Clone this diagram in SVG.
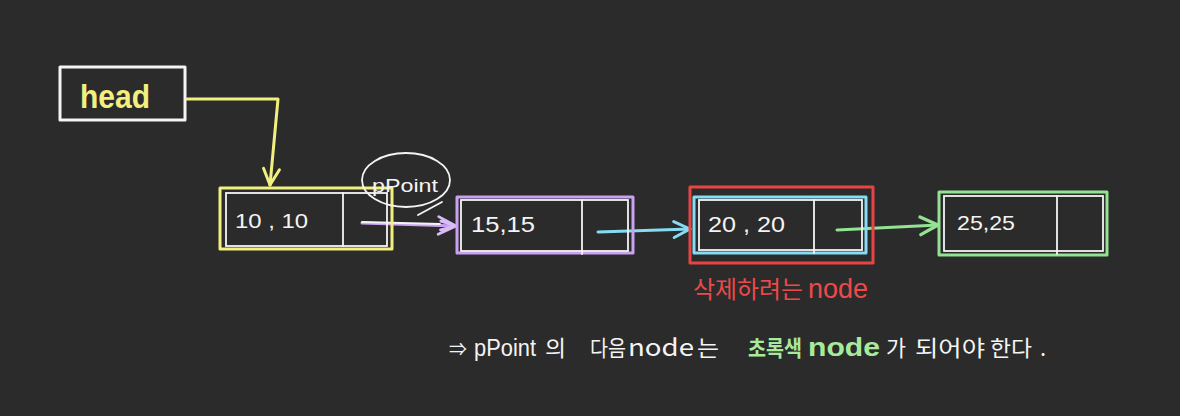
<svg xmlns="http://www.w3.org/2000/svg" width="1180" height="416" viewBox="0 0 1180 416">
<style>
.bg{fill:#2b2b2b}
.box{fill:none;stroke-width:3;stroke-linejoin:round;stroke-linecap:round}
.w{stroke:#f4f4f4}
.wt{fill:none;stroke:#f4f4f4;stroke-width:1.8;stroke-linecap:round}
.y{stroke:#f2ef7e}
.p{stroke:#c9a2f2}
.c{stroke:#86dcf2}
.r{stroke:#e84444}
.g{stroke:#94e294}
.conn{fill:none;stroke-width:3;stroke-linecap:round;stroke-linejoin:round}
.t{font-family:"Liberation Sans","Noto Sans CJK KR",sans-serif;fill:#f4f4f4}
.k{font-family:"Noto Sans CJK KR","Liberation Sans",sans-serif}
</style>
<defs>
<marker id="ay" markerUnits="userSpaceOnUse" viewBox="0 0 20 20" refX="18" refY="10" markerWidth="20" markerHeight="20" orient="auto"><path d="M2,2 L18,10 L2,18" fill="none" stroke="#f2ef7e" stroke-width="3" stroke-linecap="round" stroke-linejoin="round"/></marker>
<marker id="ap" markerUnits="userSpaceOnUse" viewBox="0 0 20 20" refX="18" refY="10" markerWidth="22" markerHeight="22" orient="auto"><path d="M2,2 L18,10 L2,18 M4,6 L18,10 L4,14" fill="none" stroke="#d8bcf6" stroke-width="2.5" stroke-linecap="round" stroke-linejoin="round"/></marker>
<marker id="ac" markerUnits="userSpaceOnUse" viewBox="0 0 20 20" refX="18" refY="10" markerWidth="20" markerHeight="20" orient="auto"><path d="M2,2 L18,10 L2,18" fill="none" stroke="#86dcf2" stroke-width="3" stroke-linecap="round" stroke-linejoin="round"/></marker>
<marker id="ag" markerUnits="userSpaceOnUse" viewBox="0 0 20 20" refX="18" refY="10" markerWidth="22" markerHeight="22" orient="auto"><path d="M2,2 L18,10 L2,18" fill="none" stroke="#94e294" stroke-width="3" stroke-linecap="round" stroke-linejoin="round"/></marker>
</defs>
<rect class="bg" x="0" y="0" width="1180" height="416"/>

<g id="connectors">
<polyline class="conn y" points="187,99 278,99 270,185" marker-end="url(#ay)"/>
<polyline class="conn p" points="362,223 456,226" marker-end="url(#ap)"/>
<line x1="362" y1="222" x2="440" y2="224" class="wt"/>
<polyline class="conn c" points="598,232 690,229" marker-end="url(#ac)"/>
<polyline class="conn g" points="837,230 938,225" marker-end="url(#ag)"/>
</g>

<g id="head">
<rect class="box w" x="60" y="67" width="125" height="53"/>
<text class="t" x="80" y="108" font-size="34" font-weight="bold" textLength="70" lengthAdjust="spacingAndGlyphs" style="fill:#f2ef7e">head</text>
</g>

<g id="node1">
<rect class="box y" x="220" y="188" width="172" height="61"/>
<rect class="wt" x="226" y="193" width="161" height="53"/>
<line class="wt" x1="343" y1="193" x2="343" y2="246"/>
<text class="t" x="235" y="228" font-size="21" textLength="73" lengthAdjust="spacingAndGlyphs">10 , 10</text>
</g>

<g id="pPoint">
<ellipse cx="406" cy="180" rx="44" ry="27" class="wt"/>
<line class="wt" x1="442" y1="202" x2="418" y2="215"/>
<text class="t" x="372" y="192" font-size="19" textLength="66" lengthAdjust="spacingAndGlyphs">pPoint</text>
</g>

<g id="node2">
<rect class="box p" x="457" y="197" width="176" height="56"/>
<rect class="wt" x="461" y="200" width="167" height="51"/>
<line class="wt" x1="582" y1="200" x2="582" y2="254"/>
<text class="t" x="471" y="232" font-size="22" textLength="64" lengthAdjust="spacingAndGlyphs">15,15</text>
</g>

<g id="node3">
<rect class="box r" x="690" y="187" width="183" height="76"/>
<rect class="box c" x="694" y="197" width="172" height="56"/>
<rect class="wt" x="699" y="200" width="163" height="50"/>
<line class="wt" x1="814" y1="200" x2="814" y2="253"/>
<text class="t" x="708" y="232" font-size="22" textLength="77" lengthAdjust="spacingAndGlyphs">20 , 20</text>
</g>

<g id="node4">
<rect class="box g" x="939" y="192" width="168" height="63"/>
<rect class="wt" x="944" y="196" width="159" height="55"/>
<line class="wt" x1="1057" y1="196" x2="1057" y2="254"/>
<text class="t" x="957" y="230" font-size="21" textLength="58" lengthAdjust="spacingAndGlyphs">25,25</text>
</g>

<g id="delete-label">
<text class="t k" x="693" y="298" font-size="24" style="fill:#ec4a4a"><tspan textLength="110" lengthAdjust="spacingAndGlyphs">삭제하려는</tspan><tspan x="808" font-family="Liberation Sans" font-size="28" textLength="60" lengthAdjust="spacingAndGlyphs">node</tspan></text>
</g>

<g id="note">
<text class="t k" y="356" font-size="22">
<tspan x="449" font-size="18">⇒</tspan>
<tspan x="474" font-family="Liberation Sans" font-size="23" textLength="62" lengthAdjust="spacingAndGlyphs">pPoint</tspan>
<tspan x="545" textLength="21" lengthAdjust="spacingAndGlyphs">의</tspan>
<tspan x="590" textLength="36" lengthAdjust="spacingAndGlyphs">다음</tspan>
<tspan x="628" font-size="24" textLength="66" lengthAdjust="spacingAndGlyphs">node</tspan>
<tspan x="697" textLength="22" lengthAdjust="spacingAndGlyphs">는</tspan>
<tspan x="748" style="fill:#a8ea9c" font-weight="bold" textLength="54" lengthAdjust="spacingAndGlyphs">초록색</tspan>
<tspan x="808" style="fill:#a8ea9c" font-family="Liberation Sans" font-weight="bold" font-size="26" textLength="72" lengthAdjust="spacingAndGlyphs">node</tspan>
<tspan x="886" textLength="20" lengthAdjust="spacingAndGlyphs">가</tspan>
<tspan x="915" textLength="70" lengthAdjust="spacingAndGlyphs">되어야</tspan>
<tspan x="990" textLength="42" lengthAdjust="spacingAndGlyphs">한다</tspan>
<tspan x="1040">.</tspan>
</text>
</g>
</svg>
